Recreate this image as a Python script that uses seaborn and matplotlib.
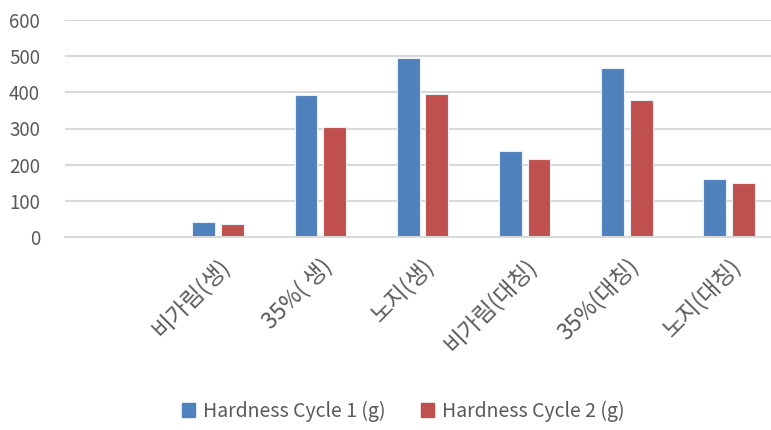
import matplotlib
matplotlib.use("Agg")
import matplotlib.pyplot as plt
import seaborn as sns
import pandas as pd
import numpy as np
from matplotlib.patches import Patch

categories = ["", "비가림(생)", "35%( 생)", "노지(생)", "비가림(대칭)", "35%(대칭)", "노지(대칭)"]
cycle1 = [np.nan, 41, 392, 496, 238, 467, 161]
cycle2 = [np.nan, 36, 305, 396, 216, 380, 150]
series = ["Hardness Cycle 1 (g)", "Hardness Cycle 2 (g)"]
colors = ["#4F81BD", "#C0504D"]
yticks = [0, 100, 200, 300, 400, 500, 600]

df = pd.DataFrame({
    "cat": categories * 2,
    "val": cycle1 + cycle2,
    "series": [series[0]] * len(categories) + [series[1]] * len(categories),
})

sns.set_theme(style="white")
plt.rcParams["font.family"] = ["Noto Sans CJK KR", "DejaVu Sans"]

W, H = 771, 430
fig = plt.figure(figsize=(W / 100, H / 100), dpi=100)
left, right, top, bottom = 65, 780, 20, 237
ax = fig.add_axes([left / W, 1 - bottom / H, (right - left) / W, (bottom - top) / H])

sns.barplot(data=df, x="cat", y="val", hue="series", order=categories,
            hue_order=series, palette=colors, width=0.56, gap=0.2,
            edgecolor="#e8eef6", linewidth=0.8, ax=ax, legend=False,
            errorbar=None, saturation=1)

ax.set_ylim(0, 600)
ax.set_xlim(-0.5, 6.5)
ax.set_yticks(yticks)
ax.set_yticklabels([str(v) for v in yticks], fontsize=13.5, color="#595959")
ax.grid(axis="y", color="#d9d9d9", linewidth=1.5)
ax.set_axisbelow(True)
for s in ["top", "right", "left"]:
    ax.spines[s].set_visible(False)
ax.spines["bottom"].set_color("#d9d9d9")
ax.spines["bottom"].set_linewidth(1.5)
ax.tick_params(axis="both", length=0)
ax.tick_params(axis="y", pad=18)
ax.set_xlabel("")
ax.set_ylabel("")
ax.set_xticks(range(len(categories)))
ax.set_xticklabels(categories, rotation=45, ha="right", rotation_mode="anchor",
                   fontsize=16.5, color="#595959")
ax.tick_params(axis="x", pad=12)

handles = [Patch(facecolor=c, edgecolor=c) for c in colors]
fig.legend(handles, series, loc="center", bbox_to_anchor=(0.523, 1 - 411 / H),
           ncol=2, frameon=False, fontsize=14, handlelength=0.7, handleheight=0.7,
           handletextpad=0.4, columnspacing=1.8, labelcolor="#595959")

fig.savefig("out.png", dpi=100, facecolor="white")
